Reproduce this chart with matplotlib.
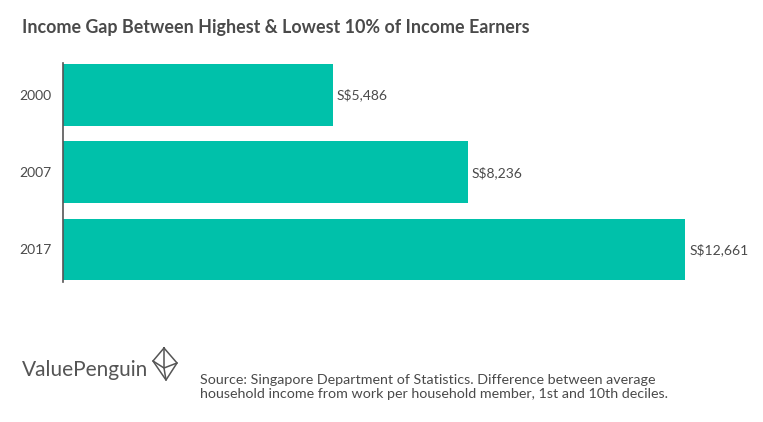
import matplotlib.pyplot as plt
from matplotlib.lines import Line2D

years = ["2000", "2007", "2017"]
gap = [5486, 8236, 12661]
labels = ["S$5,486", "S$8,236", "S$12,661"]

bar_color = "#00C1AA"
text_color = "#4a4a4a"

plt.rcParams['font.family'] = ['Lato', 'DejaVu Sans']

fig = plt.figure(figsize=(7.63, 4.22), dpi=100)
W, H = 763, 422

# axes placed in pixel terms: left 63, right 751, top 56.5, bottom 288
ax = fig.add_axes([63 / W, 1 - 288 / H, (751 - 63) / W, (288 - 56.5) / H])
ypos = list(range(len(years)))
ax.barh(ypos, gap, height=0.8, color=bar_color)
ax.set_xlim(0, 14000)
ax.set_ylim(2.5, -0.5)
ax.set_yticks(ypos)
ax.set_yticklabels(years, fontsize=10, color=text_color)
ax.tick_params(axis='y', length=0, pad=8)
ax.set_xticks([])
for s in ["top", "right", "bottom"]:
    ax.spines[s].set_visible(False)
ax.spines["left"].set_color("#555555")
ax.spines["left"].set_linewidth(1.2)
ax.spines["left"].set_bounds(-0.42, 2.42)

for y, v, lab in zip(ypos, gap, labels):
    ax.text(v + 80, y, lab, va='center', ha='left', fontsize=10, color=text_color)

fig.text(22 / W, 1 - 28 / H, "Income Gap Between Highest & Lowest 10% of Income Earners",
         fontsize=12.9, fontweight='bold', color=text_color, va='center', ha='left')

fig.text(22 / W, 1 - 370 / H, "ValuePenguin", fontsize=15, color="#555555",
         va='center', ha='left')

fig.text(200 / W, 1 - 387 / H,
         "Source: Singapore Department of Statistics. Difference between average\n"
         "household income from work per household member, 1st and 10th deciles.",
         fontsize=10.3, color=text_color, va='center', ha='left', linespacing=1.25)

# logo: diamond outline with inner strokes
def px(x, y):
    return x / W, 1 - y / H

def stroke(points):
    xs, ys = zip(*[px(*p) for p in points])
    fig.add_artist(Line2D(xs, ys, color="#555555", lw=1.1))

stroke([(164, 348), (177, 363), (166, 380), (153, 361), (164, 348)])
stroke([(164, 348), (164, 368), (177, 363)])
stroke([(153, 361), (164, 368), (166, 380)])

fig.savefig("out.png", dpi=100)
